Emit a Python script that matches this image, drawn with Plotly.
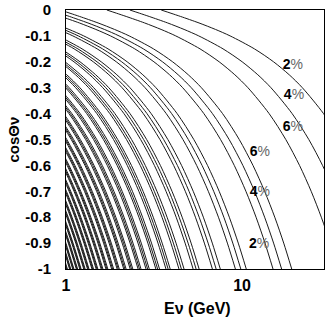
import plotly.graph_objects as go

# Common contour shape: E(cos)/E(cos=-1)
shape_cos = [0, -0.0125, -0.025, -0.05, -0.075, -0.1, -0.15, -0.2, -0.25, -0.3,
             -0.4, -0.5, -0.6, -0.7, -0.8, -0.9, -1.0]
shape_ratio = [0.0485, 0.0551, 0.0625, 0.0795, 0.0986, 0.1194, 0.1640, 0.2107, 0.2585, 0.3069,
               0.4049, 0.5035, 0.6025, 0.7017, 0.8011, 0.9005, 1.0]

# Energy (GeV) at which each contour line meets cos = -1 (groups: 2,4,6,6,4,2 %)
E_at_cos_m1 = [
    71.6, 47.5, 35.16, 19.13, 16.76, 14.98,
    10.56, 9.83, 9.16, 7.52, 7.12, 6.78,
    5.70, 5.48, 5.27, 4.68, 4.52, 4.38,
    3.905, 3.800, 3.696, 3.397, 3.314, 3.238,
    2.970, 2.908, 2.847, 2.666, 2.615, 2.567,
    2.395, 2.355, 2.315, 2.194, 2.159, 2.127,
    2.007, 1.979, 1.951, 1.864, 1.839, 1.815,
    1.7276, 1.7067, 1.6854, 1.6203, 1.6012, 1.5832,
    1.5162, 1.5001, 1.4836, 1.4330, 1.4180, 1.4038,
    1.3509, 1.3381, 1.3250, 1.2844, 1.2723, 1.2610,
    1.2181, 1.2077, 1.1970, 1.1638, 1.1539, 1.1445,
    1.1091, 1.1004, 1.0916, 1.0639, 1.0556, 1.0478,
    1.0180, 1.0107, 1.0032,
]

# Contour labels
label_text = ["2", "4", "6", "6", "4", "2"]
label_E = [19.4, 19.7, 19.4, 12.6, 12.6, 12.5]
label_cos = [-0.215, -0.331, -0.455, -0.551, -0.706, -0.907]

y_ticks = [0, -0.1, -0.2, -0.3, -0.4, -0.5, -0.6, -0.7, -0.8, -0.9, -1]
y_ticklabels = ["0", "-0.1", "-0.2", "-0.3", "-0.4", "-0.5", "-0.6", "-0.7", "-0.8", "-0.9", "-1"]
x_ticks = [1, 10]
x_ticklabels = ["1", "10"]

xs, ys = [], []
for eb in E_at_cos_m1:
    for c, r in zip(shape_cos, shape_ratio):
        xs.append(eb * r)
        ys.append(c)
    xs.append(None)
    ys.append(None)

fig = go.Figure()
fig.add_trace(go.Scatter(x=xs, y=ys, mode="lines",
                         line=dict(color="#1a1a1a", width=1, shape="spline", smoothing=0.8),
                         hoverinfo="skip", showlegend=False))
fig.add_trace(go.Scatter(x=label_E, y=label_cos, mode="text",
                         text=["<b>%s</b><span style='color:#666'>%%</span>" % t for t in label_text],
                         textposition="middle center",
                         textfont=dict(family="Liberation Sans", size=14, color="#000"),
                         hoverinfo="skip", showlegend=False))

font_b = dict(family="Liberation Sans", color="#000", weight="bold")
fig.update_layout(
    width=327, height=317, autosize=False,
    margin=dict(l=66, r=3, t=10, b=48),
    paper_bgcolor="white", plot_bgcolor="white",
    xaxis=dict(type="log", range=[0, 1.465], tickvals=x_ticks, ticktext=x_ticklabels,
               showgrid=False, zeroline=False, showline=True, mirror=True,
               linecolor="#000", linewidth=1, ticks="", ticklen=0, automargin=False,
               tickfont=dict(size=16, **font_b), ticklabelstandoff=2),
    yaxis=dict(range=[-1, 0], tickvals=y_ticks, ticktext=y_ticklabels,
               showgrid=False, zeroline=False, showline=True, mirror=True,
               linecolor="#000", linewidth=1, ticks="", ticklen=0, automargin=False,
               tickfont=dict(size=15, **font_b), ticklabelstandoff=11),
    annotations=[
        dict(text="Eν (GeV)", xref="paper", yref="paper", x=0.508, y=-0.152,
             xanchor="center", yanchor="middle", showarrow=False,
             font=dict(size=16, **font_b)),
        dict(text="cosΘν", xref="paper", yref="paper", x=-0.205, y=0.5,
             xanchor="center", yanchor="middle", showarrow=False, textangle=-90,
             font=dict(size=15, **font_b)),
    ],
)
fig.write_html("out.html", config={"displayModeBar": False},
               post_script="document.body.style.margin='0';document.body.style.overflow='hidden';")
